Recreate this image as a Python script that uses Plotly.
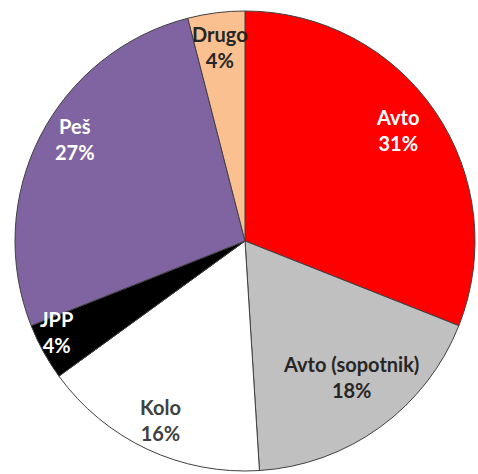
import math
import plotly.graph_objects as go

# Modal split shares (percent), listed clockwise from 12 o'clock
labels = ["Avto", "Avto (sopotnik)", "Kolo", "JPP", "Peš", "Drugo"]
values = [31, 18, 16, 4, 27, 4]

# Styling
colors = ["#FF0000", "#C0C0C0", "#FFFFFF", "#000000", "#8064A2", "#FAC090"]
text_colors = ["#FFFFFF", "#262626", "#404040", "#FFFFFF", "#FFFFFF", "#262626"]
label_radius = [0.82, 0.75, 0.86, 0.91, 0.86, 0.85]   # fraction of pie radius
label_nudge = [-2, -2, 0, 3, 4, 0]                     # degrees, clockwise

fig = go.Figure(
    go.Pie(
        labels=labels,
        values=values,
        sort=False,
        direction="clockwise",
        rotation=0,
        marker=dict(colors=colors, line=dict(color="#404040", width=1)),
        textinfo="none",
        showlegend=False,
        hoverinfo="label+percent",
    )
)

# Slice labels placed along each slice's mid-angle
total = sum(values)
cum = 0
for lab, val, col, rf, nd in zip(labels, values, text_colors, label_radius, label_nudge):
    mid = (cum + val / 2) / total * 360 + nd
    cum += val
    th = math.radians(mid)
    x = 0.5 + 0.5 * rf * math.sin(th)
    y = 0.5 + 0.5 * rf * math.cos(th)
    pct = round(val / total * 100)
    fig.add_annotation(
        x=x, y=y, xref="paper", yref="paper",
        text=f"<b>{lab}</b><br><b>{pct}%</b>",
        showarrow=False,
        font=dict(family="Lato", size=20, color=col),
        align="center",
        xanchor="center", yanchor="middle",
    )

fig.update_layout(
    width=478,
    height=474,
    margin=dict(l=15, r=3, t=11, b=3),
    paper_bgcolor="white",
    plot_bgcolor="white",
)

fig.write_html("out.html")
